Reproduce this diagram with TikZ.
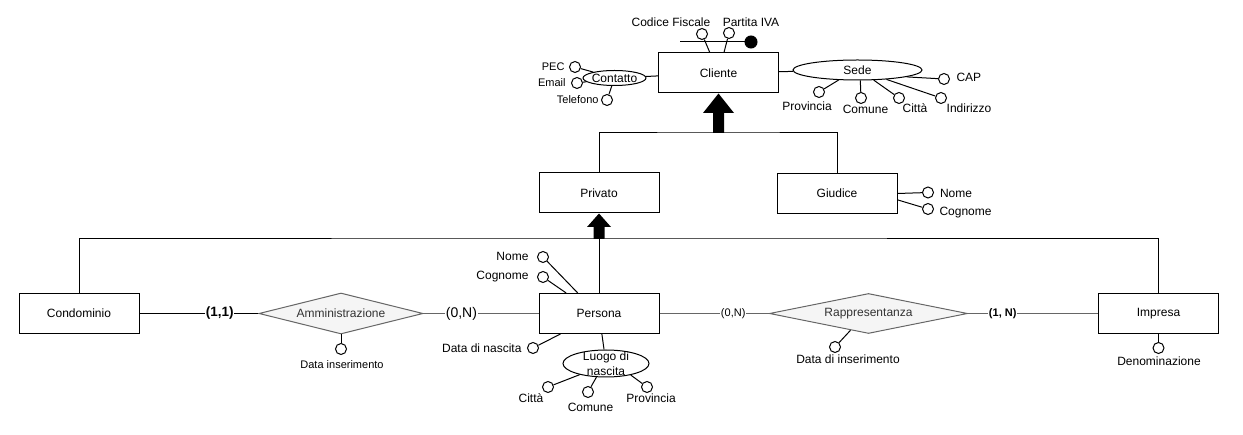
\documentclass[tikz,border=0pt]{standalone}
\usepackage{fontspec}
\setmainfont{Liberation Sans}
\usetikzlibrary{shapes.geometric,calc}
\newcommand\myfs[1]{\fontsize{#1}{#1}\selectfont}
\definecolor{relgray}{HTML}{666666}
\definecolor{relfill}{HTML}{F5F5F5}
\definecolor{reltext}{HTML}{333333}
\begin{document}
\begin{tikzpicture}[x=1pt,y=-1pt,line width=1pt,
  entity/.style={draw,fill=white,minimum width=120pt,minimum height=40pt,inner sep=0pt,font=\myfs{12}},
  attr/.style={circle,draw,fill=white,minimum size=11pt,inner sep=0pt},
  keydot/.style={circle,draw,fill=black,minimum size=12pt,inner sep=0pt},
  lbl/.style={inner sep=0pt,font=\myfs{12}},
  slbl/.style={inner sep=0pt,font=\myfs{11}},
  oval/.style={ellipse,draw,fill=white,inner sep=0pt},
  rel/.style={diamond,draw=relgray,fill=relfill,inner sep=0pt,label={[text=reltext,font=\myfs{12},inner sep=0pt]center:#1}},
  card/.style={fill=white,inner sep=0.6pt},
  gconn/.style={line width=1.5pt,draw=relgray}]
\fill[white] (0,0) rectangle (1243,435);
\useasboundingbox (0,0) rectangle (1243,435);

% entities and relationships
\node[entity] (cliente) at (718.5,73) {Cliente};
\node[entity] (privato) at (599,193) {Privato};
\node[entity] (giudice) at (837,193.5) {Giudice};
\node[entity] (condominio) at (79,313.5) {Condominio};
\node[entity] (persona) at (599,313.5) {Persona};
\node[entity] (impresa) at (1158.5,313.5) {Impresa};
\node[rel=Amministrazione,minimum width=164pt,minimum height=41pt] (amm) at (341,313.5) {};
\node[rel=Rappresentanza,minimum width=198pt,minimum height=40pt] (rapp) at (868.5,313.5) {};

% Cliente identifier
\node[attr] (cf) at (702,34) {};
\node[attr] (piva) at (729,33) {};
\node[lbl] (cfl) at (671,22) {Codice Fiscale};
\node[lbl] (pival) at (751,22) {Partita IVA};
\coordinate (idA) at (680,42);
\node[keydot] (idB) at (751,42) {};
\draw (idA) -- (idB);
\draw (cf) -- (cliente.113);
\draw (piva) -- (cliente.75);

% Contatto
\node[oval,minimum width=63pt,minimum height=15pt,label={[lbl]center:Contatto}] (contatto) at (614.5,78) {};
\node[attr] (pec) at (575,67) {};
\node[slbl,anchor=east] (pecl) at (565,67) {PEC};
\node[attr] (email) at (577,83) {};
\node[slbl,anchor=east] (emaill) at (566,83) {Email};
\node[attr] (tel) at (607,100) {};
\node[slbl,anchor=east] (tell) at (599,100) {Telefono};
\draw (pec) -- (contatto);
\draw (email) -- (contatto);
\draw (tel) -- (contatto);
\draw (contatto) -- (cliente);

% Sede
\node[oval,minimum width=129pt,minimum height=20pt,label={[lbl]center:Sede}] (sede) at (857.5,70) {};
\node[attr] (cap) at (944,79) {};
\node[lbl,anchor=west] (capl) at (956,77) {CAP};
\node[attr] (sprov) at (819,92) {};
\node[lbl] (sprovl) at (807,106) {Provincia};
\node[attr] (scom) at (861,98) {};
\node[lbl] (scoml) at (865.5,109) {Comune};
\node[attr] (scit) at (899,98) {};
\node[lbl] (scitl) at (915,108) {Città};
\node[attr] (sind) at (941,98) {};
\node[lbl] (sindl) at (969,108) {Indirizzo};
\draw (cliente) -- (sede);
\draw (cap) -- (sede.-8);
\draw (sprov) -- (sede.208);
\draw (scom) -- (sede.285);
\draw (scit) -- (sede.328);
\draw (sind) -- (sede.-18);

% generalization Cliente
\coordinate (g1) at (718.5,133);
\draw (privato.north) |- (g1) -| (giudice.north);
\fill (g1) ++(-5.5,0) -- ++(11,0) -- ++(0,-20) -- ++(10,0) -- (cliente.south)
  -- ($(g1)+(-15.5,-20)$) -- ($(g1)+(-5.5,-20)$) -- cycle;

% Giudice attributes
\node[attr] (gnome) at (928,192.5) {};
\node[lbl,anchor=west] (gnomel) at (939.5,193) {Nome};
\node[attr] (gcog) at (928,209) {};
\node[lbl,anchor=west] (gcogl) at (939,213) {Cognome};
\draw (giudice.east) -- (gnome);
\draw (giudice.-6) -- (gcog);

% generalization Privato
\coordinate (g2) at (599,239);
\draw (condominio.north) |- (g2) -| (impresa.north);
\draw (g2) -- (persona.north);
\fill (g2) ++(-5.5,0) -- ++(11,0) -- ++(0,-12) -- ++(6.5,0) -- (privato.south)
  -- ($(g2)+(-12,-12)$) -- ($(g2)+(-5.5,-12)$) -- cycle;

% Persona attributes
\node[attr] (pnome) at (543,257) {};
\node[lbl,anchor=east] (pnomel) at (529,256) {Nome};
\node[attr] (pcog) at (543,277) {};
\node[lbl,anchor=east] (pcogl) at (529,277) {Cognome};
\node[attr] (pdata) at (533,348) {};
\node[lbl,anchor=east] (pdatal) at (522,348) {Data di nascita};
\draw (pnome) -- (persona.136);
\draw (pcog) -- (persona.148);
\draw (pdata) -- (persona.208);

% Luogo di nascita
\node[oval,minimum width=86pt,minimum height=27pt,
  label={[inner sep=0pt,align=center,font=\fontsize{12}{14.5}\selectfont]center:{Luogo di\\nascita}}] (luogo) at (606,363.5) {};
\node[attr] (lcit) at (548,387) {};
\node[lbl] (lcitl) at (531,398.5) {Città};
\node[attr] (lcom) at (588,392) {};
\node[lbl] (lcoml) at (590.5,407) {Comune};
\node[attr] (lprov) at (647,387) {};
\node[lbl] (lprovl) at (651,398.5) {Provincia};
\draw (luogo) -- (persona);
\draw (lcit) -- (luogo.203);
\draw (lcom) -- (luogo.235);
\draw (lprov) -- (luogo.335);

% Amministrazione
\node[attr] (amattr) at (341,349) {};
\node[slbl] (amattrl) at (342,365) {Data inserimento};
\draw (amm.south) -- (amattr);
\draw (condominio) -- node[card,pos=0.675,font=\myfs{13.5}\bfseries] {(1,1)} (amm);
\draw[gconn] (amm) -- node[card,pos=0.33,font=\myfs{14}] {(0,N)} (persona);

% Rappresentanza
\draw[gconn] (persona) -- node[card,pos=0.673,font=\myfs{11}] {(0,N)} (rapp);
\draw[gconn] (rapp) -- node[card,pos=0.267,font=\myfs{11}\bfseries] {(1, N)} (impresa);
\node[attr] (rpattr) at (835,347) {};
\node[lbl] (rpattrl) at (848,359) {Data di inserimento};
\draw (rapp.223) -- (rpattr);
\node[attr] (imattr) at (1158.5,348) {};
\node[lbl] (imattrl) at (1159,361) {Denominazione};
\draw (impresa.south) -- (imattr);
\end{tikzpicture}
\end{document}
